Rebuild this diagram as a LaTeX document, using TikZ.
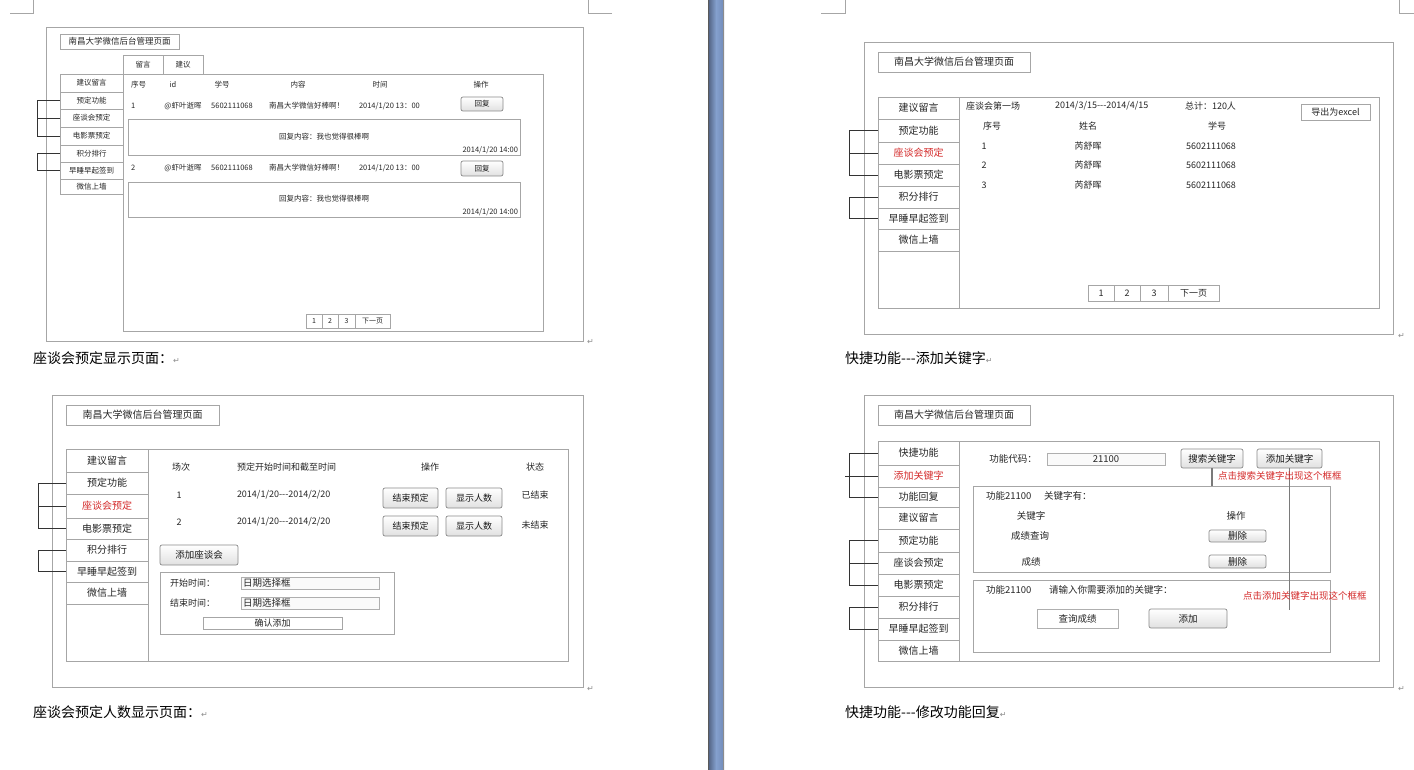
\documentclass[tikz,border=0pt]{standalone}
\usepackage{fontspec}
\setmainfont{Noto Sans CJK SC}
\newfontfamily\symf{DejaVu Sans}
\definecolor{frc}{HTML}{A6A6A6}
\definecolor{txc}{HTML}{262626}
\definecolor{btc}{HTML}{8A8A8A}
\definecolor{rdc}{HTML}{D42A2A}
\definecolor{lnc}{HTML}{7A7A7A}
\newcommand{\fs}[1]{\fontsize{#1}{#1}\selectfont}
\newcommand{\dsh}{-{}-{}-}
\newcommand{\bx}[7]{\node[#6, anchor=north west, inner sep=0pt, outer sep=0pt, minimum width={(#4-#2)*1pt}, minimum height={(#5-#3)*1pt}] (#1) at (#2,#3) {#7};}
\newcommand{\tx}[6]{\node[tt, anchor=#4, font=\fs{#5}] (#1) at (#2,#3) {#6};}
\newcommand{\rt}{{\symf\color{black!45}\fs{8}↵}}
\tikzset{
  fr/.style={draw=frc, line width=0.8pt, text=txc},
  bt/.style={draw=btc, line width=0.7pt, rounded corners=2pt, top color=white, bottom color=black!12, text=black!90},
  inp/.style={draw=frc!90, line width=0.6pt, fill=black!2, text=txc},
  tt/.style={inner sep=0pt, outer sep=0pt, text=txc},
  brk/.style={draw=black!80, line width=0.7pt},
  cornermark/.style={draw=black!35, line width=0.7pt},
  noteline/.style={draw=lnc, line width=1.1pt},
}
\begin{document}
\begin{tikzpicture}[x=1pt,y=-1pt]
\useasboundingbox (0,0) rectangle (1414,770);
\fill[white] (0,0) rectangle (1414,770);
% page corner marks
\draw[cornermark] (10,13) -- (33,13) -- (33,0);
\draw[cornermark] (612,13) -- (588,13) -- (588,0);
\draw[cornermark] (821,13) -- (845,13) -- (845,0);
\draw[cornermark] (1414,13) -- (1399,13) -- (1399,0);
% blue divider
\shade[left color={rgb,255:red,80;green,96;blue,128}, right color={rgb,255:red,132;green,160;blue,206}] (708,0) rectangle (716,770);
\shade[left color={rgb,255:red,132;green,160;blue,206}, right color={rgb,255:red,112;green,138;blue,184}] (716,0) rectangle (724,770);
\draw[black!65, line width=0.8pt] (708.4,0) -- (708.4,770);
\draw[black!45, line width=0.6pt] (723.6,0) -- (723.6,770);

% ================= PANEL 1 =================
\bx{p1}{46}{27}{583}{341}{fr}{}
\bx{p1t}{60}{34}{179}{49}{fr,font=\fs{8.5}}{南昌大学微信后台管理页面}
\bx{p1tab1}{123}{55}{163}{74}{fr,font=\fs{7.5}}{留言}
\bx{p1tab2}{163}{55}{203}{74}{fr,font=\fs{7.5}}{建议}
\bx{p1c}{123}{74}{543}{331}{fr}{}
\bx{p1m1}{60}{74}{123}{92}{fr,font=\fs{7.5}}{建议留言}
\bx{p1m2}{60}{92}{123}{109}{fr,font=\fs{7.5}}{预定功能}
\bx{p1m3}{60}{109}{123}{127}{fr,font=\fs{7.5}}{座谈会预定}
\bx{p1m4}{60}{127}{123}{145}{fr,font=\fs{7.5}}{电影票预定}
\bx{p1m5}{60}{145}{123}{162}{fr,font=\fs{7.5}}{积分排行}
\bx{p1m6}{60}{162}{123}{179}{fr,font=\fs{7.5}}{早睡早起签到}
\bx{p1m7}{60}{179}{123}{194}{fr,font=\fs{7.5}}{微信上墙}
\draw[brk] (p1m2.west) -- ++(-23,0) coordinate (p1ba) |- (p1m4.west);
\draw[brk] (p1m3.west) -- (p1m3.west -| p1ba);
\draw[brk] (p1m5.west) -- ++(-23,0) |- (p1m6.west);
% headers
\tx{p1h1}{131}{85}{west}{7.5}{序号}
\tx{p1h2}{173}{85}{center}{7.5}{id}
\tx{p1h3}{222}{85}{center}{7.5}{学号}
\tx{p1h4}{298}{85}{center}{7.5}{内容}
\tx{p1h5}{380}{85}{center}{7.5}{时间}
\tx{p1h6}{481}{85}{center}{7.5}{操作}
% row 1
\tx{p1r1a}{131}{106}{west}{7.5}{1}
\tx{p1r1b}{183}{106}{center}{7.5}{@虾叶逝晖}
\tx{p1r1c}{232}{106}{center}{7.5}{5602111068}
\tx{p1r1d}{269}{106}{west}{7.5}{南昌大学微信好棒啊！}
\tx{p1r1e}{359}{106}{west}{7.5}{2014/1/20 13：00}
\bx{p1b1}{461}{97}{503}{111}{bt,font=\fs{7.5}}{回复}
\bx{p1rep1}{128}{119}{520}{155}{fr}{}
\tx{p1rep1t}{324}{137}{center}{7.5}{回复内容：我也觉得很棒啊}
\tx{p1rep1d}{518}{150}{east}{7.5}{2014/1/20 14:00}
% row 2
\tx{p1r2a}{131}{168}{west}{7.5}{2}
\tx{p1r2b}{183}{168}{center}{7.5}{@虾叶逝晖}
\tx{p1r2c}{232}{168}{center}{7.5}{5602111068}
\tx{p1r2d}{269}{168}{west}{7.5}{南昌大学微信好棒啊！}
\tx{p1r2e}{359}{168}{west}{7.5}{2014/1/20 13：00}
\bx{p1b2}{461}{161}{503}{176}{bt,font=\fs{7.5}}{回复}
\bx{p1rep2}{128}{182}{520}{217}{fr}{}
\tx{p1rep2t}{324}{199}{center}{7.5}{回复内容：我也觉得很棒啊}
\tx{p1rep2d}{518}{212}{east}{7.5}{2014/1/20 14:00}
% pagination
\bx{p1pg1}{306}{314}{322}{328}{fr,font=\fs{7}}{1}
\bx{p1pg2}{322}{314}{338}{328}{fr,font=\fs{7}}{2}
\bx{p1pg3}{338}{314}{355}{328}{fr,font=\fs{7}}{3}
\bx{p1pg4}{355}{314}{390}{328}{fr,font=\fs{7}}{下一页}
\node[tt, anchor=west] (p1ret) at (587,342) {\rt};
\node[inner sep=0pt, anchor=west, font=\fs{14}] (p1cap) at (33,358) {座谈会预定显示页面：\rt};

% ================= PANEL 2 =================
\bx{p2}{864}{42}{1393}{334}{fr}{}
\bx{p2t}{878}{52}{1030}{72}{fr,font=\fs{10}}{南昌大学微信后台管理页面}
\bx{p2col}{878}{97}{959}{308}{fr}{}
\bx{p2c}{959}{97}{1379}{308}{fr}{}
\bx{p2m1}{878}{97}{959}{119}{fr,font=\fs{10}}{建议留言}
\bx{p2m2}{878}{119}{959}{142}{fr,font=\fs{10}}{预定功能}
\bx{p2m3}{878}{142}{959}{164}{fr,font=\fs{10},text=rdc}{座谈会预定}
\bx{p2m4}{878}{164}{959}{186}{fr,font=\fs{10}}{电影票预定}
\bx{p2m5}{878}{186}{959}{208}{fr,font=\fs{10}}{积分排行}
\bx{p2m6}{878}{208}{959}{229}{fr,font=\fs{10}}{早睡早起签到}
\bx{p2m7}{878}{229}{959}{251}{fr,font=\fs{10}}{微信上墙}
\draw[brk] (p2m2.west) -- ++(-29,0) coordinate (p2ba) |- (p2m4.west);
\draw[brk] (p2m3.west) -- (p2m3.west -| p2ba);
\draw[brk] (p2m5.west) -- ++(-29,0) |- (p2m6.west);
\tx{p2a}{966}{106}{west}{9}{座谈会第一场}
\tx{p2b}{1055}{106}{west}{9}{2014/3/15\dsh{}2014/4/15}
\tx{p2cnt}{1185}{106}{west}{9}{总计：120人}
\bx{p2x}{1301}{104}{1370}{120}{fr,font=\fs{9}}{导出为excel}
\tx{p2h1}{992}{126}{center}{9}{序号}
\tx{p2h2}{1088}{126}{center}{9}{姓名}
\tx{p2h3}{1217}{126}{center}{9}{学号}
\tx{p2r1a}{984}{146}{center}{9}{1}
\tx{p2r1b}{1088}{146}{center}{9}{芮舒晖}
\tx{p2r1c}{1211}{146}{center}{9}{5602111068}
\tx{p2r2a}{984}{165}{center}{9}{2}
\tx{p2r2b}{1088}{165}{center}{9}{芮舒晖}
\tx{p2r2c}{1211}{165}{center}{9}{5602111068}
\tx{p2r3a}{984}{185}{center}{9}{3}
\tx{p2r3b}{1088}{185}{center}{9}{芮舒晖}
\tx{p2r3c}{1211}{185}{center}{9}{5602111068}
\bx{p2pg1}{1088}{285}{1114}{301}{fr,font=\fs{9}}{1}
\bx{p2pg2}{1114}{285}{1140}{301}{fr,font=\fs{9}}{2}
\bx{p2pg3}{1140}{285}{1168}{301}{fr,font=\fs{9}}{3}
\bx{p2pg4}{1168}{285}{1219}{301}{fr,font=\fs{9}}{下一页}
\node[tt, anchor=west] (p2ret) at (1398,336) {\rt};
\node[inner sep=0pt, anchor=west, font=\fs{14}] (p2cap) at (845,358) {快捷功能\dsh{}添加关键字\rt};

% ================= PANEL 3 =================
\bx{p3}{52}{395}{583}{687}{fr}{}
\bx{p3t}{66}{405}{219}{425}{fr,font=\fs{10}}{南昌大学微信后台管理页面}
\bx{p3col}{66}{449}{148}{661}{fr}{}
\bx{p3c}{148}{449}{568}{661}{fr}{}
\bx{p3m1}{66}{449}{148}{472}{fr,font=\fs{10}}{建议留言}
\bx{p3m2}{66}{472}{148}{494}{fr,font=\fs{10}}{预定功能}
\bx{p3m3}{66}{494}{148}{518}{fr,font=\fs{10},text=rdc}{座谈会预定}
\bx{p3m4}{66}{518}{148}{539}{fr,font=\fs{10}}{电影票预定}
\bx{p3m5}{66}{539}{148}{561}{fr,font=\fs{10}}{积分排行}
\bx{p3m6}{66}{561}{148}{582}{fr,font=\fs{10}}{早睡早起签到}
\bx{p3m7}{66}{582}{148}{604}{fr,font=\fs{10}}{微信上墙}
\draw[brk] (p3m2.west) -- ++(-28,0) coordinate (p3ba) |- (p3m4.west);
\draw[brk] (p3m3.west) -- (p3m3.west -| p3ba);
\draw[brk] (p3m5.west) -- ++(-28,0) |- (p3m6.west);
\tx{p3h1}{181}{467}{center}{9}{场次}
\tx{p3h2}{237}{467}{west}{9}{预定开始时间和截至时间}
\tx{p3h3}{430}{467}{center}{9}{操作}
\tx{p3h4}{535}{467}{center}{9}{状态}
\tx{p3r1a}{179}{495}{center}{9}{1}
\tx{p3r1b}{237}{495}{west}{9}{2014/1/20\dsh{}2014/2/20}
\bx{p3e1}{383}{488}{438}{508}{bt,font=\fs{9}}{结束预定}
\bx{p3s1}{446}{488}{502}{508}{bt,font=\fs{9}}{显示人数}
\tx{p3r1c}{535}{495}{center}{9}{已结束}
\tx{p3r2a}{179}{522}{center}{9}{2}
\tx{p3r2b}{237}{522}{west}{9}{2014/1/20\dsh{}2014/2/20}
\bx{p3e2}{383}{516}{438}{536}{bt,font=\fs{9}}{结束预定}
\bx{p3s2}{446}{516}{502}{536}{bt,font=\fs{9}}{显示人数}
\tx{p3r2c}{535}{525}{center}{9}{未结束}
\bx{p3add}{160}{545}{238}{565}{bt,font=\fs{9.5}}{添加座谈会}
\bx{p3f}{160}{572}{394}{634}{fr}{}
\tx{p3fl1}{170}{583}{west}{9}{开始时间：}
\bx{p3in1}{241}{577}{379}{589}{inp}{}
\tx{p3in1t}{243}{583}{west}{9.5}{日期选择框}
\tx{p3fl2}{170}{603}{west}{9}{结束时间：}
\bx{p3in2}{241}{597}{379}{609}{inp}{}
\tx{p3in2t}{243}{603}{west}{9.5}{日期选择框}
\bx{p3ok}{203}{617}{342}{629}{fr,font=\fs{9}}{确认添加}
\node[tt, anchor=west] (p3ret) at (587,689) {\rt};
\node[inner sep=0pt, anchor=west, font=\fs{14}] (p3cap) at (33,712) {座谈会预定人数显示页面：\rt};

% ================= PANEL 4 =================
\bx{p4}{864}{395}{1393}{687}{fr}{}
\bx{p4t}{878}{405}{1030}{425}{fr,font=\fs{10}}{南昌大学微信后台管理页面}
\bx{p4col}{878}{441}{959}{661}{fr}{}
\bx{p4c}{959}{441}{1379}{661}{fr}{}
\bx{p4m1}{878}{441}{959}{465}{fr,font=\fs{10}}{快捷功能}
\bx{p4m2}{878}{465}{959}{487}{fr,font=\fs{10},text=rdc}{添加关键字}
\bx{p4m3}{878}{487}{959}{507}{fr,font=\fs{10}}{功能回复}
\bx{p4m4}{878}{507}{959}{529}{fr,font=\fs{10}}{建议留言}
\bx{p4m5}{878}{529}{959}{552}{fr,font=\fs{10}}{预定功能}
\bx{p4m6}{878}{552}{959}{574}{fr,font=\fs{10}}{座谈会预定}
\bx{p4m7}{878}{574}{959}{596}{fr,font=\fs{10}}{电影票预定}
\bx{p4m8}{878}{596}{959}{618}{fr,font=\fs{10}}{积分排行}
\bx{p4m9}{878}{618}{959}{640}{fr,font=\fs{10}}{早睡早起签到}
\bx{p4m10}{878}{640}{959}{661}{fr,font=\fs{10}}{微信上墙}
\draw[brk] (p4m1.west) -- ++(-29,0) coordinate (p4ba) |- (p4m3.west);
\coordinate (p4bx) at ([xshift=-33pt]p4m2.west);
\draw[brk] (p4m2.west) -- (p4bx);
\draw[brk] (p4m5.west) -- ++(-29,0) coordinate (p4bb) |- (p4m7.west);
\draw[brk] (p4m6.west) -- (p4m6.west -| p4bb);
\draw[brk] (p4m8.west) -- ++(-29,0) |- (p4m9.west);
\tx{p4l}{1013}{459}{center}{9.5}{功能代码：}
\bx{p4in}{1047}{453}{1165}{465}{inp,font=\fs{9.5}}{21100}
\bx{p4s}{1181}{449}{1243}{468}{bt,font=\fs{9.5}}{搜索关键字}
\bx{p4a}{1257}{449}{1322}{468}{bt,font=\fs{9.5}}{添加关键字}
\bx{p4b1}{973}{486}{1330}{572}{fr}{}
\bx{p4b2}{973}{580}{1330}{652}{fr}{}
\draw[noteline] (p4s.south) -- (p4s.south |- p4b1.north);
\coordinate (p4aend) at ([yshift=-142pt]p4a.south);
\draw[noteline] (p4a.south) -- (p4aend);
\tx{p4n1}{1218}{476}{west}{9.5}{\color{rdc}点击搜索关键字出现这个框框}
\tx{p4n2}{1243}{596}{west}{9.5}{\color{rdc}点击添加关键字出现这个框框}
\tx{p4k1}{986}{496}{west}{9.5}{功能21100}
\tx{p4k2}{1044}{496}{west}{9.5}{关键字有：}
\tx{p4k3}{1031}{516}{center}{9.5}{关键字}
\tx{p4k4}{1236}{516}{center}{9.5}{操作}
\tx{p4k5}{1030}{536}{center}{9.5}{成绩查询}
\bx{p4d1}{1209}{530}{1266}{542}{bt,font=\fs{9.5}}{删除}
\tx{p4k6}{1031}{562}{center}{9.5}{成绩}
\bx{p4d2}{1209}{555}{1266}{568}{bt,font=\fs{9.5}}{删除}
\tx{p4q1}{986}{590}{west}{9.5}{功能21100}
\tx{p4q2}{1049}{590}{west}{9.5}{请输入你需要添加的关键字：}
\bx{p4qb}{1037}{609}{1118}{628}{inp,fill=white,font=\fs{9.5}}{查询成绩}
\bx{p4add}{1149}{609}{1227}{628}{bt,font=\fs{9.5}}{添加}
\node[tt, anchor=west] (p4ret) at (1398,689) {\rt};
\node[inner sep=0pt, anchor=west, font=\fs{14}] (p4cap) at (845,712) {快捷功能\dsh{}修改功能回复\rt};
\end{tikzpicture}
\end{document}
